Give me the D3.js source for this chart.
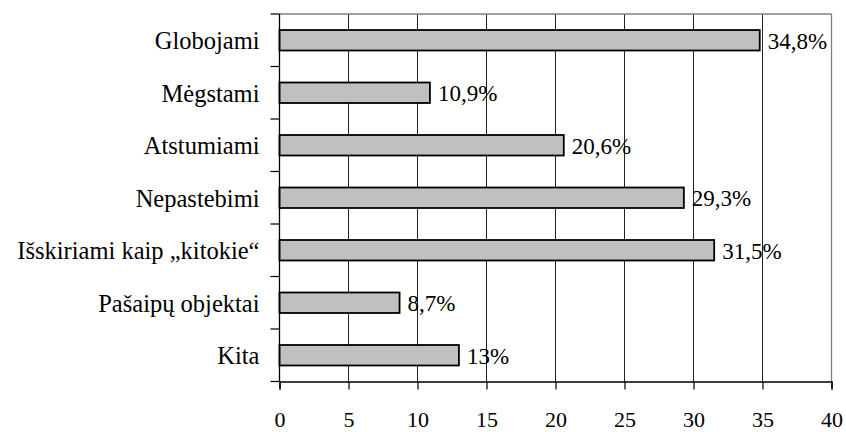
<!DOCTYPE html>
<html><head><meta charset="utf-8">
<script src="https://cdn.jsdelivr.net/npm/d3@7"></script>
<style>
body{margin:0;background:#fff;}
</style></head>
<body><svg id="c" width="846" height="432"></svg>
<script>
const categories = ["Globojami","Mėgstami","Atstumiami","Nepastebimi","Išskiriami kaip „kitokie“","Pašaipų objektai","Kita"];
const values = [34.8,10.9,20.6,29.3,31.5,8.7,13];
const valueLabels = ["34,8%","10,9%","20,6%","29,3%","31,5%","8,7%","13%"];
const xTicks = [0,5,10,15,20,25,30,35,40];

const FONT = "'Liberation Serif', 'Times New Roman', Times, 'DejaVu Serif', serif";
const svg = d3.select("#c");
const L = 279.5, R = 831.5, T = 14, B = 381.5;
const x = d3.scaleLinear().domain([0,40]).range([L,R]);
const y = d3.scaleBand().domain(categories).range([T,B]).paddingInner(0.61).paddingOuter(0.305);
const yb = d3.scaleBand().domain(categories).range([T,B]);

// gridlines
svg.append("g").selectAll("line").data(xTicks.slice(1,-1)).join("line")
  .attr("x1",d=>x(d)).attr("x2",d=>x(d)).attr("y1",T).attr("y2",B)
  .attr("stroke","#222").attr("stroke-width",1);
// top & right border
svg.append("line").attr("x1",L).attr("x2",R).attr("y1",T).attr("y2",T).attr("stroke","#808080").attr("stroke-width",1.3);
svg.append("line").attr("x1",R).attr("x2",R).attr("y1",T).attr("y2",B).attr("stroke","#808080").attr("stroke-width",1.3);

// bars
svg.append("g").selectAll("rect").data(categories).join("rect")
  .attr("x",x(0)).attr("y",d=>y(d)).attr("height",y.bandwidth())
  .attr("width",(d,i)=>x(values[i])-x(0))
  .attr("fill","#c0c0c0").attr("stroke","#000").attr("stroke-width",1.8);

// value labels
svg.append("g").selectAll("text").data(categories).join("text")
  .attr("x",(d,i)=>x(values[i])+8).attr("y",d=>y(d)+y.bandwidth()/2)
  .attr("dy","0.36em").style("font-family",FONT).style("font-size","23px")
  .text((d,i)=>valueLabels[i]);

// x axis
const xa = svg.append("g").attr("transform",`translate(0,${B})`)
  .call(d3.axisBottom(x).tickValues(xTicks).tickSize(8).tickPadding(22).tickFormat(d3.format("d")));
xa.select(".domain").attr("stroke","#000").attr("stroke-width",1.3);
xa.selectAll(".tick line").attr("stroke","#000").attr("stroke-width",1.2);
xa.selectAll("text").style("font-family",FONT).style("font-size","22px").attr("fill","#000");

// y axis
svg.append("line").attr("x1",L).attr("x2",L).attr("y1",T).attr("y2",B).attr("stroke","#000").attr("stroke-width",1.3);
const bounds = categories.map(c=>yb(c)).concat([B]);
svg.append("g").selectAll("line").data(bounds).join("line")
  .attr("x1",L-9).attr("x2",L).attr("y1",d=>d).attr("y2",d=>d)
  .attr("stroke","#000").attr("stroke-width",1.2);
svg.append("g").selectAll("text").data(categories).join("text")
  .attr("x",L-20).attr("y",d=>yb(d)+yb.bandwidth()/2)
  .attr("dy","0.36em").attr("text-anchor","end")
  .style("font-family",FONT).style("font-size","24.5px")
  .text(d=>d);
</script></body></html>
